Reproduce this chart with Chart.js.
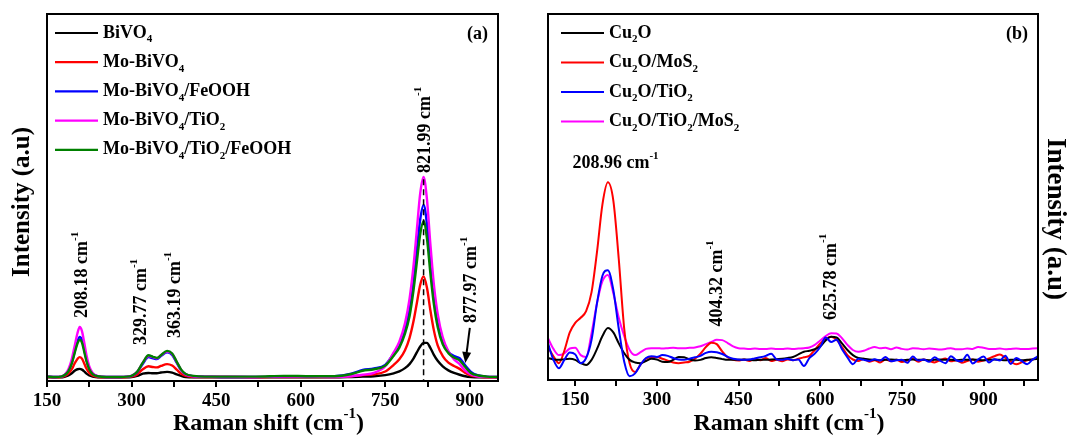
<!DOCTYPE html>
<html>
<head>
<meta charset="utf-8">
<title>Raman spectra</title>
<script src="https://cdn.jsdelivr.net/npm/chart.js@4.4.1/dist/chart.umd.min.js"></script>
<style>
    html, body { margin: 0; padding: 0; background: #fff; }
    #wrap { position: relative; width: 1067px; height: 437px; overflow: hidden; }
    #chart-a { position: absolute; left: 0; top: 0; }
    #chart-b { position: absolute; left: 530px; top: 0; }
</style>
</head>
<body>
<div id="wrap">
    <canvas id="chart-a" width="530" height="437"></canvas>
    <canvas id="chart-b" width="537" height="437"></canvas>
</div>
<script>
    // ---- Panel (a): BiVO4 series ----
    var namesA = ['BiVO_{4}', 'Mo-BiVO_{4}', 'Mo-BiVO_{4}/FeOOH', 'Mo-BiVO_{4}/TiO_{2}', 'Mo-BiVO_{4}/TiO_{2}/FeOOH'];
    var ramanA = [150, 165, 175, 182, 188, 194, 199, 204, 208, 212, 216, 220, 225, 231, 240, 255, 280, 300, 310, 320,
        330, 338, 345, 352, 363, 372, 380, 388, 396, 410, 430, 470, 520, 570, 620, 660, 690, 710, 730,
        750, 765, 775, 785, 793, 800, 806, 812, 818, 824, 830, 836, 843, 852, 862, 872, 882, 892, 902, 915, 930, 950];
    var bivo4 = [1, 1, 1, 1.2, 1.5, 2.1, 2.8, 3.2, 3.3, 3.1, 2.6, 2, 1.5, 1.2, 1, 1, 1, 1.1, 1.4, 2,
        2.2, 2.1, 2.1, 2.3, 2.5, 2.3, 1.8, 1.4, 1.1, 1, 1, 1, 1, 1, 1, 1, 1.1, 1.2, 1.3,
        1.6, 2.1, 2.6, 3.5, 4.6, 6.1, 7.8, 9.4, 10.4, 10.4, 9, 7.2, 5.5, 4, 2.9, 2.2, 1.7, 1.3, 1.1, 1, 1, 1];
    var moBivo4 = [1.1, 1, 1.1, 1.4, 2, 3.2, 4.8, 6, 6.5, 6.1, 4.8, 3.4, 2.2, 1.5, 1.1, 1, 1, 1.2, 1.8, 3.2,
        4, 3.8, 3.7, 4.1, 4.6, 4.2, 3.1, 2, 1.4, 1.1, 1.1, 1.1, 1, 1.1, 1.1, 1.1, 1.3, 1.6, 1.8,
        2.6, 4.4, 5.9, 8.4, 11.7, 16.2, 21.2, 26.2, 28.5, 25.4, 19.3, 14, 9.7, 6.8, 5, 4.1, 3.3, 2.2, 1.5, 1.2, 1, 1];
    var moBivo4Feooh = [1.2, 1.1, 1.2, 1.7, 2.8, 5, 8, 10.8, 12, 11.2, 8.6, 5.8, 3.4, 2, 1.3, 1.1, 1.1, 1.4, 2.4, 4.7,
        6.5, 6.2, 6, 6.8, 7.8, 7.1, 5, 2.9, 1.8, 1.3, 1.2, 1.1, 1.1, 1.3, 1.2, 1.3, 2, 3, 3.4,
        4.4, 7.5, 9.8, 14, 19.3, 26.9, 35.5, 44, 48, 42.7, 32.3, 23.3, 16.1, 10.8, 8, 6.8, 6.2, 4.2, 2.5, 1.5, 1.2, 1.1];
    var moBivo4Tio2 = [1.2, 1.1, 1.2, 1.8, 3.2, 6, 9.5, 13, 14.7, 13.6, 10.5, 7, 4, 2.2, 1.3, 1.1, 1.1, 1.4, 2.5, 5,
        6.8, 6.5, 6.2, 7, 8, 7.4, 5.2, 3, 1.8, 1.3, 1.2, 1.2, 1.1, 1.3, 1.2, 1.1, 1.3, 1.7, 2.2,
        4, 7.8, 10.7, 15.7, 22.3, 31.2, 41.1, 51.1, 55.6, 49.5, 37.4, 26.7, 18.3, 11.9, 8.1, 5.9, 4.6, 2.8, 1.8, 1.2, 1.1, 1.1];
    var moBivo4Tio2Feooh = [1.2, 1.1, 1.2, 1.7, 2.7, 4.8, 7.6, 10.2, 11.2, 10.5, 8, 5.4, 3.2, 1.9, 1.3, 1.1, 1.1, 1.4, 2.5, 5,
        7, 6.6, 6.3, 7, 8.2, 7.5, 5.3, 3.1, 1.9, 1.4, 1.2, 1.2, 1.2, 1.4, 1.3, 1.3, 1.9, 2.8, 3.2,
        4.2, 6.9, 9.1, 12.9, 17.6, 24.6, 32.3, 40, 43.6, 38.8, 29.4, 21.2, 14.7, 10, 7.6, 6.4, 5.6, 3.8, 2.2, 1.5, 1.2, 1.1];
    var ticksA = [150, 225, 300, 375, 450, 525, 600, 675, 750, 825, 900];
    var tickLabelsA = [150, 300, 450, 600, 750, 900];

    // ---- Panel (b): Cu2O series ----
    var namesB = ['Cu_{2}O', 'Cu_{2}O/MoS_{2}', 'Cu_{2}O/TiO_{2}', 'Cu_{2}O/TiO_{2}/MoS_{2}'];
    var ramanB = [100, 110, 120, 130, 140, 150, 160, 170, 180, 190, 200, 210, 220, 230, 240, 250, 260, 270, 280, 290,
        300, 310, 320, 330, 340, 350, 360, 370, 380, 390, 400, 410, 420, 430, 440, 450, 460, 470, 480, 490,
        500, 510, 520, 530, 540, 550, 560, 570, 580, 590, 600, 610, 620, 630, 640, 650, 660, 670, 680, 690,
        700, 710, 720, 730, 740, 750, 760, 770, 780, 790, 800, 810, 820, 830, 840, 850, 860, 870, 880, 890,
        900, 910, 920, 930, 940, 950, 960, 970, 980, 990, 1000];
    var cu2o = [6, 5.6, 5.5, 5.7, 5.8, 5.5, 4.6, 4.1, 5.5, 8.5,
        12, 14.2, 13, 10, 7.3, 5.5, 4.8, 4.6, 5.2, 5.8,
        5.6, 5, 4.9, 5.5, 6.3, 6.2, 5.6, 5.3, 5.5, 6,
        6.2, 6, 5.7, 5.5, 5.5, 5.5, 5.6, 5.5, 5.4, 5.5,
        5.5, 5.6, 5.7, 5.8, 6, 6.3, 7, 7.7, 8, 8.4,
        9.2, 10.8, 11.8, 11.6, 10, 8.2, 6.8, 6, 5.8, 5.6,
        5.5, 5.4, 5.5, 5.6, 5.5, 5.4, 5.5, 5.6, 5.5, 5.5,
        5.4, 5.5, 5.6, 5.5, 5.5, 5.4, 5.5, 5.5, 5.6, 5.5,
        5.4, 5.5, 5.6, 5.5, 5.4, 5.5, 5.5, 5.4, 5.5, 5.6, 5.8];
    var cu2oMos2 = [9, 6.5, 4.6, 8, 13, 15.6, 17, 18.8, 24, 35,
        48, 54, 49, 33, 14, 4.5, 2.2, 4.2, 5.8, 6.3,
        6.3, 5.8, 5.3, 4.8, 4.6, 4.8, 5, 5.8, 7.2, 9,
        10.2, 9.8, 7.8, 6.2, 5.5, 5.3, 5.6, 5.2, 5.8, 5.4,
        6, 5.2, 5.5, 5.1, 5.6, 5.4, 5.8, 6.2, 6.6, 8.2,
        10, 11.2, 11.8, 11, 9, 6.8, 5.6, 5.2, 5.8, 5,
        5.4, 4.8, 5.6, 5.1, 5.5, 4.9, 5.3, 5.8, 5, 5.6,
        5.2, 4.8, 5.4, 5.9, 5.1, 5.4, 4.7, 5.2, 5.6, 5,
        5.3, 5.9, 6.5, 7, 6, 5, 4.3, 4.8, 5.4, 5.6, 6.2];
    var cu2oTio2 = [10, 5.5, 3.2, 5.5, 7.5, 7, 4.6, 6, 11, 21,
        28.5, 30, 24.6, 14, 5, 1, 1.8, 4.2, 6, 6.5,
        6.3, 6.8, 6.6, 6, 5.6, 5.5, 5.8, 6.2, 6.6, 7.4,
        7.7, 7.6, 7.1, 6.3, 5.8, 5.6, 5.5, 5.6, 5.9, 6.2,
        6.6, 7.2, 5.6, 5.5, 5.8, 5.4, 5.6, 3.8, 6, 7.2,
        9, 11.6, 10.4, 11, 8.4, 6.2, 4.3, 5.8, 5.5, 5.2,
        5.7, 5.3, 6.3, 5.1, 5.4, 5.5, 4.7, 6.4, 5.3, 5.6,
        5, 6.2, 5.3, 4.6, 6.5, 5.4, 5.1, 6.9, 4.5, 5.6,
        6.4, 4.8, 5.7, 5.3, 6.6, 4.4, 6, 5.2, 4.3, 5.6, 6.5];
    var cu2oTio2Mos2 = [11.4, 8.5, 6.8, 7.3, 8.6, 8.8, 6.8, 6.3, 12.8, 21,
        27, 28.7, 23.7, 17, 12, 8.2, 6.8, 7.6, 8.5, 8.7,
        8.7, 8.6, 8.7, 8.8, 8.7, 8.7, 8.8, 8.9, 9.2, 9.8,
        10.4, 11, 10.9, 10.1, 9.2, 8.7, 8.6, 8.5, 8.6, 8.5,
        8.5, 8.6, 8.5, 8.5, 8.6, 8.5, 8.6, 8.7, 8.9, 9.6,
        10.8, 12, 12.8, 12.7, 11.4, 9.6, 8.2, 7.7, 8, 8.6,
        9, 8.7, 8.8, 8.4, 8.9, 8.5, 8.3, 8.7, 8.6, 8.4,
        8.6, 8.5, 8.3, 8.5, 8.7, 8.4, 8.4, 8.6, 8.5, 9,
        8.8, 8.5, 8.5, 8.6, 8.4, 8.5, 8.6, 8.5, 8.5, 8.6, 8.7];
    var ticksB = [150, 225, 300, 375, 450, 525, 600, 675, 750, 825, 900, 975];
    var tickLabelsB = [150, 300, 450, 600, 750, 900];

    var FONT = "'Liberation Serif', 'Times New Roman', serif";

    /**
     * Split a label like "Cu_{2}O" or "cm^{-1}" into plain / sub / sup runs.
     */
    function parseRich(str) {
        var parts = [];
        var re = /([_^])\{([^}]*)\}/g;
        var last = 0;
        var m;
        while ((m = re.exec(str)) !== null) {
            if (m.index > last) {
                parts.push({ t: str.slice(last, m.index), k: 'n' });
            }
            parts.push({ t: m[2], k: m[1] === '_' ? 'sub' : 'sup' });
            last = re.lastIndex;
        }
        if (last < str.length) {
            parts.push({ t: str.slice(last), k: 'n' });
        }
        return parts;
    }

    function drawRich(ctx, str, x, y, size, align, angle) {
        var parts = parseRich(str);
        var total = 0;
        ctx.save();
        ctx.translate(x, y);
        ctx.rotate(angle || 0);
        ctx.textBaseline = 'middle';
        ctx.textAlign = 'left';
        ctx.fillStyle = '#000';
        parts.forEach(function (p) {
            p.size = p.k === 'n' ? size : Math.round(size * 0.62);
            ctx.font = 'bold ' + p.size + 'px ' + FONT;
            p.w = ctx.measureText(p.t).width;
            total += p.w;
        });
        var cx = align === 'center' ? -total / 2 : (align === 'right' ? -total : 0);
        parts.forEach(function (p) {
            var dy = p.k === 'sub' ? size * 0.36 : (p.k === 'sup' ? -size * 0.42 : 0);
            ctx.font = 'bold ' + p.size + 'px ' + FONT;
            ctx.fillText(p.t, cx, dy);
            cx += p.w;
        });
        ctx.restore();
    }

    function toPoints(xs, ys) {
        return xs.map(function (x, i) {
            return { x: x, y: ys[i] };
        });
    }

    function makeDataset(xs, ys, color, width, order) {
        return {
            data: toPoints(xs, ys),
            borderColor: color,
            borderWidth: width,
            pointRadius: 0,
            fill: false,
            cubicInterpolationMode: 'monotone',
            order: order
        };
    }

    /**
     * Frame, legend, axis titles and peak labels drawn on top of the plot.
     */
    function decorPlugin(cfg) {
        return {
            id: 'decor',
            afterDraw: function (chart) {
                var ctx = chart.ctx;
                var a = chart.chartArea;
                var sx = chart.scales.x;
                var sy = chart.scales.y;

                ctx.save();
                ctx.strokeStyle = '#000';
                ctx.lineWidth = 2;
                ctx.strokeRect(a.left, a.top, a.right - a.left, a.bottom - a.top);

                // legend
                cfg.names.forEach(function (name, i) {
                    var y = cfg.legendTop + i * cfg.legendGap;
                    ctx.strokeStyle = cfg.colors[i];
                    ctx.lineWidth = 2.2;
                    ctx.beginPath();
                    ctx.moveTo(cfg.legendX, y);
                    ctx.lineTo(cfg.legendX + 43, y);
                    ctx.stroke();
                    drawRich(ctx, name, cfg.legendX + 48, y, 18, 'left', 0);
                });

                drawRich(ctx, cfg.tag, a.right - 10, cfg.legendTop + 1, 18, 'right', 0);

                // axis titles
                drawRich(ctx, 'Raman shift (cm^{-1})', (a.left + a.right) / 2 - 4, 424, 24, 'center', 0);
                drawRich(ctx, 'Intensity (a.u)', cfg.yTitle.x, cfg.yTitle.y, cfg.yTitle.size, 'center', cfg.yTitle.angle);

                // peak labels
                cfg.peaks.forEach(function (p) {
                    var px = sx.getPixelForValue(p.x);
                    var py = sy.getPixelForValue(p.y);
                    if (p.rot) {
                        drawRich(ctx, p.text, px, py, 18, 'left', -Math.PI / 2);
                    } else {
                        drawRich(ctx, p.text, px, py, 18, 'center', 0);
                    }
                });

                if (cfg.extra) {
                    cfg.extra(ctx, sx, sy);
                }
                ctx.restore();
            }
        };
    }

    function makeChart(id, cfg) {
        var canvas = document.getElementById(id);
        var datasets = cfg.series.map(function (ys, i) {
            return makeDataset(cfg.xs, ys, cfg.colors[i], cfg.lineWidth, cfg.orders[i]);
        });

        return new Chart(canvas.getContext('2d'), {
            type: 'line',
            data: { datasets: datasets },
            options: {
                responsive: false,
                animation: false,
                devicePixelRatio: 1,
                layout: { padding: cfg.padding },
                plugins: {
                    legend: { display: false },
                    tooltip: { enabled: false }
                },
                scales: {
                    x: {
                        type: 'linear',
                        min: cfg.xMin,
                        max: cfg.xMax,
                        afterFit: function (scale) {
                            scale.height = cfg.axisHeight;
                        },
                        afterBuildTicks: function (scale) {
                            scale.ticks = cfg.ticks.map(function (v) {
                                return { value: v };
                            });
                        },
                        grid: {
                            drawOnChartArea: false,
                            drawTicks: true,
                            tickLength: 6,
                            color: '#000',
                            lineWidth: 2
                        },
                        border: { display: true, color: '#000', width: 2 },
                        ticks: {
                            color: '#000',
                            padding: 3,
                            maxRotation: 0,
                            autoSkip: false,
                            font: { family: FONT, size: 19, weight: 'bold' },
                            callback: function (value) {
                                return cfg.tickLabels.indexOf(value) >= 0 ? String(value) : '';
                            }
                        }
                    },
                    y: {
                        display: false,
                        min: 0,
                        max: 100
                    }
                }
            },
            plugins: [decorPlugin(cfg)]
        });
    }

    document.addEventListener('DOMContentLoaded', function () {
        var colorsA = ['#000000', '#ff0000', '#0000ff', '#ff00ff', '#008000'];
        var colorsB = ['#000000', '#ff0000', '#0000ff', '#ff00ff'];

        makeChart('chart-a', {
            xs: ramanA,
            series: [bivo4, moBivo4, moBivo4Feooh, moBivo4Tio2, moBivo4Tio2Feooh],
            names: namesA,
            colors: colorsA,
            orders: [5, 4, 3, 2, 1],
            lineWidth: 2.4,
            xMin: 150,
            xMax: 950,
            ticks: ticksA,
            tickLabels: tickLabelsA,
            padding: { left: 47, right: 32, top: 14, bottom: 0 },
            axisHeight: 56,
            legendX: 55,
            legendTop: 33,
            legendGap: 29.2,
            tag: '(a)',
            yTitle: { x: 23, y: 202, size: 25, angle: -Math.PI / 2 },
            peaks: [
                { text: '208.18 cm^{-1}', x: 213, y: 17.2, rot: true },
                { text: '329.77 cm^{-1}', x: 318, y: 9.8, rot: true },
                { text: '363.19 cm^{-1}', x: 378, y: 11.7, rot: true },
                { text: '821.99 cm^{-1}', x: 821, y: 56.7, rot: true },
                { text: '877.97 cm^{-1}', x: 903, y: 15.8, rot: true }
            ],
            extra: function (ctx, sx, sy) {
                // dashed marker under the main peak
                var x = sx.getPixelForValue(818);
                ctx.strokeStyle = '#000';
                ctx.lineWidth = 1.5;
                ctx.setLineDash([6, 4]);
                ctx.beginPath();
                ctx.moveTo(x, sy.getPixelForValue(55));
                ctx.lineTo(x, sy.getPixelForValue(0));
                ctx.stroke();
                ctx.setLineDash([]);

                // arrow to the 877.97 shoulder
                var x0 = sx.getPixelForValue(900), y0 = sy.getPixelForValue(14.5);
                var x1 = sx.getPixelForValue(892), y1 = sy.getPixelForValue(4.9);
                var ang = Math.atan2(y1 - y0, x1 - x0);
                ctx.lineWidth = 2;
                ctx.beginPath();
                ctx.moveTo(x0, y0);
                ctx.lineTo(x1 - 8 * Math.cos(ang), y1 - 8 * Math.sin(ang));
                ctx.stroke();
                ctx.fillStyle = '#000';
                ctx.beginPath();
                ctx.moveTo(x1, y1);
                ctx.lineTo(x1 - 11 * Math.cos(ang) + 4.5 * Math.sin(ang), y1 - 11 * Math.sin(ang) - 4.5 * Math.cos(ang));
                ctx.lineTo(x1 - 11 * Math.cos(ang) - 4.5 * Math.sin(ang), y1 - 11 * Math.sin(ang) + 4.5 * Math.cos(ang));
                ctx.closePath();
                ctx.fill();
            }
        });

        makeChart('chart-b', {
            xs: ramanB,
            series: [cu2o, cu2oMos2, cu2oTio2, cu2oTio2Mos2],
            names: namesB,
            colors: colorsB,
            orders: [2, 3, 1, 4],
            lineWidth: 2,
            xMin: 100,
            xMax: 1000,
            ticks: ticksB,
            tickLabels: tickLabelsB,
            padding: { left: 18, right: 29, top: 14, bottom: 0 },
            axisHeight: 57,
            legendX: 31,
            legendTop: 33,
            legendGap: 29.5,
            tag: '(b)',
            yTitle: { x: 525, y: 219, size: 27, angle: Math.PI / 2 },
            peaks: [
                { text: '208.96 cm^{-1}', x: 224, y: 59.2, rot: false },
                { text: '404.32 cm^{-1}', x: 411, y: 14.6, rot: true },
                { text: '625.78 cm^{-1}', x: 620, y: 16.4, rot: true }
            ]
        });
    });
</script>
</body>
</html>
